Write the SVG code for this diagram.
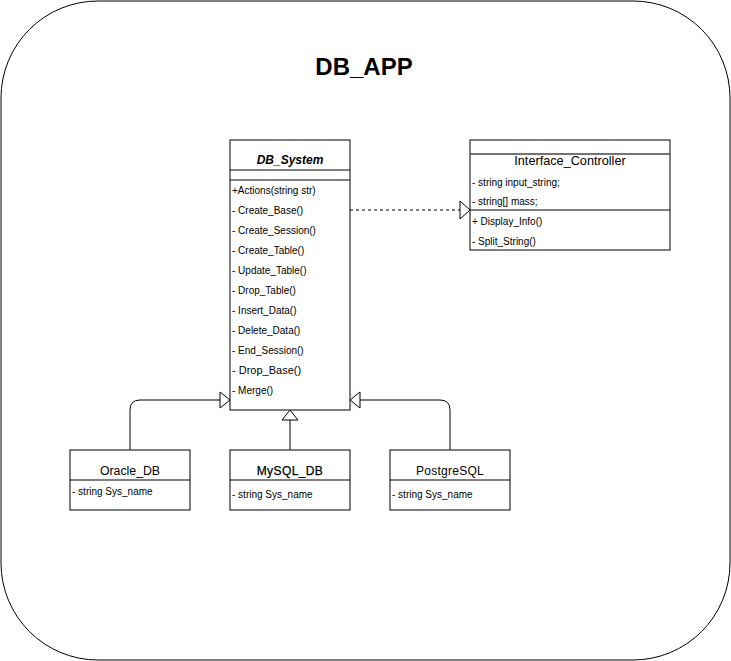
<svg xmlns="http://www.w3.org/2000/svg" width="731" height="661" viewBox="0 0 731 661">
<style>
.box{fill:#fff;stroke:#000;stroke-width:1}
.ln{stroke:#000;stroke-width:1;fill:none}
.t{font-family:"Liberation Sans",Arial,sans-serif;font-size:12px;fill:#000}
.m{font-family:"Liberation Sans",Arial,sans-serif;font-size:10px;fill:#000}
.c{text-anchor:middle}
.edge{stroke:#000;stroke-width:1;fill:none}
.head{fill:#fff;stroke:#000;stroke-width:1}
</style>
<rect width="731" height="661" fill="#fff"/>
<g id="app">
<rect x="1" y="1" width="729" height="659" rx="97" ry="97" class="box"/>
<text x="364" y="75" class="t c" style="font-size:24px;font-weight:bold">DB_APP</text>
</g>
<g id="connectors">
<path class="edge" d="M350,210 H460" stroke-dasharray="3,3"/>
<path class="head" d="M460,201 L470,210 L460,219 Z"/>
<path class="edge" d="M130,450 V410 Q130,400 140,400 H220"/>
<path class="head" d="M220,392 L230,400 L220,408 Z"/>
<path class="edge" d="M290,450 V420"/>
<path class="head" d="M282,420 L290,410 L298,420 Z"/>
<path class="edge" d="M450,450 V410 Q450,400 440,400 H360"/>
<path class="head" d="M360,392 L350,400 L360,408 Z"/>
</g>
<g id="DB_System">
<rect x="230" y="140" width="120" height="270" class="box"/>
<line x1="230" y1="170" x2="350" y2="170" class="ln"/>
<line x1="230" y1="180" x2="350" y2="180" class="ln"/>
<text x="290" y="164" class="t c" style="font-style:italic;font-weight:bold">DB_System</text>
<text x="232" y="194" class="m">+Actions(string str)</text>
<text x="232" y="214" class="m">- Create_Base()</text>
<text x="232" y="234" class="m">- Create_Session()</text>
<text x="232" y="254" class="m">- Create_Table()</text>
<text x="232" y="274" class="m">- Update_Table()</text>
<text x="232" y="294" class="m">- Drop_Table()</text>
<text x="232" y="314" class="m">- Insert_Data()</text>
<text x="232" y="334" class="m">- Delete_Data()</text>
<text x="232" y="354" class="m">- End_Session()</text>
<text x="232" y="374" class="m" style="font-size:11px">- Drop_Base()</text>
<text x="232" y="394" class="m">- Merge()</text>
</g>
<g id="Interface_Controller">
<rect x="470" y="140" width="200" height="110" class="box"/>
<line x1="470" y1="154" x2="670" y2="154" stroke="#444" stroke-width="1.3"/>
<line x1="470" y1="210" x2="670" y2="210" class="ln"/>
<text x="570" y="165" class="t c" style="font-size:12.7px">Interface_Controller</text>
<text x="472" y="186" class="m">- string input_string;</text>
<text x="472" y="205" class="m">- string[] mass;</text>
<text x="472" y="225" class="m">+ Display_Info()</text>
<text x="472" y="245" class="m">- Split_String()</text>
</g>
<g id="Oracle_DB">
<rect x="70" y="450" width="120" height="60" class="box"/>
<line x1="70" y1="480" x2="190" y2="480" class="ln"/>
<text x="130" y="475" class="t c" style="font-size:12.3px">Oracle_DB</text>
<text x="72" y="495" class="m">- string Sys_name</text>
</g>
<g id="MySQL_DB">
<rect x="230" y="450" width="120" height="60" class="box"/>
<line x1="230" y1="480" x2="350" y2="480" class="ln"/>
<text x="290" y="475" class="t c" style="letter-spacing:0.4px;stroke:#000;stroke-width:0.25">MySQL_DB</text>
<text x="232" y="498" class="m">- string Sys_name</text>
</g>
<g id="PostgreSQL">
<rect x="390" y="450" width="120" height="60" class="box"/>
<line x1="390" y1="480" x2="510" y2="480" class="ln"/>
<text x="450" y="475" class="t c" style="letter-spacing:0.25px">PostgreSQL</text>
<text x="392" y="498" class="m">- string Sys_name</text>
</g>
</svg>
